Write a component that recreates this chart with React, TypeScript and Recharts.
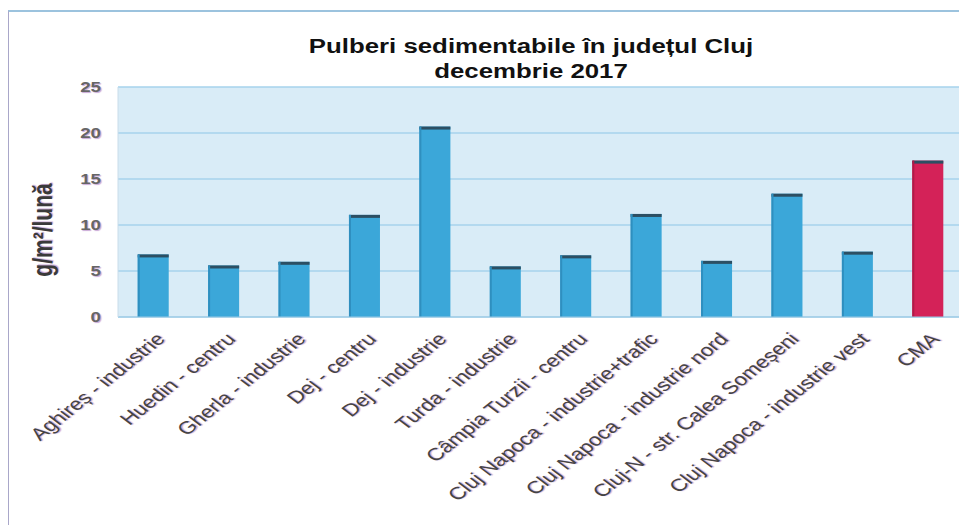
import { BarChart, Bar, XAxis, YAxis, CartesianGrid, Cell } from "recharts";

const stations = [
  "Aghireș - industrie",
  "Huedin - centru",
  "Gherla - industrie",
  "Dej - centru",
  "Dej - industrie",
  "Turda - industrie",
  "Câmpia Turzii - centru",
  "Cluj Napoca - industrie+trafic",
  "Cluj Napoca - industrie nord",
  "Cluj-N - str. Calea Someșeni",
  "Cluj Napoca - industrie vest",
  "CMA",
];
const values = [6.8, 5.6, 6.0, 11.1, 20.7, 5.5, 6.7, 11.2, 6.1, 13.4, 7.1, 17.0];
const yTicks = [0, 5, 10, 15, 20, 25];

const data = stations.map((name, i) => ({ name, value: values[i] }));

const BLUE = "#3ba7d9";
const RED = "#d42258";
const FONT = "Arial, 'Liberation Sans', sans-serif";
// the scanned chart is stretched sideways, so text is widened to match
const STRETCH = 1.29;

// bar with the dark top edge like the excel 3d look
const EdgeBar = (props: any) => {
  const { x, y, width, height, fill } = props;
  if (!height) return null;
  return (
    <g>
      <rect x={x} y={y} width={width} height={height} fill={fill} />
      <rect x={x} y={y} width={width} height={3} fill="#2c4f63" />
      <rect x={x} y={y} width={2} height={height} fill={fill === RED ? "#b01a48" : "#2f8fbf"} />
    </g>
  );
};

const XTick = (props: any) => {
  const { x, y, payload } = props;
  return (
    <g transform={`translate(${x + 13},${y + 15}) scale(${STRETCH},1)`}>
      <text
        transform="rotate(-46)"
        textAnchor="end"
        fontFamily={FONT}
        fontSize={17.5}
        fill="#444"
        style={{ textShadow: "1px 1px 1px #c9a8d6" }}
      >
        {payload.value}
      </text>
    </g>
  );
};

const YTick = (props: any) => {
  const { x, y, payload } = props;
  return (
    <g transform={`translate(${x},${y}) scale(${STRETCH + 0.05},1)`}>
      <text
        textAnchor="end"
        dy={5}
        fontFamily={FONT}
        fontSize={14}
        fontWeight="bold"
        fill="#666"
        style={{ textShadow: "1px 1px 1px #c9a8d6" }}
      >
        {payload.value}
      </text>
    </g>
  );
};

const YLabel = () => (
  <g transform={`translate(34,218) scale(${STRETCH},1)`}>
    <text
      transform="rotate(-90)"
      textAnchor="middle"
      dy={7}
      fontFamily={FONT}
      fontSize={21}
      fontWeight="bold"
      fill="#3a3a3a"
      style={{ textShadow: "1px 1px 1px #c9a8d6" }}
    >
      g/m²/lună
    </text>
  </g>
);

export default function App() {
  return (
    <div
      style={{
        position: "relative",
        width: 959,
        height: 515,
        marginTop: 2,
        borderLeft: "1px solid #a9a7c9",
        borderTop: "2px solid #9cc3de",
        background: "#fff",
        fontFamily: FONT,
      }}
    >
      <div
        style={{
          position: "absolute",
          left: 0,
          width: 1044,
          top: 22,
          textAlign: "center",
          fontWeight: "bold",
          fontSize: 20,
          lineHeight: "25px",
          color: "#111",
          transform: `scaleX(${STRETCH})`,
          transformOrigin: "522px 0",
        }}
      >
        Pulberi sedimentabile în județul Cluj
        <br />
        decembrie 2017
      </div>
      <BarChart
        width={958}
        height={513}
        data={data}
        margin={{ top: 75, right: 4, left: 0, bottom: 0 }}
        barCategoryGap="28%"
      >
        <CartesianGrid
          vertical={false}
          stroke="#a6d3ec"
          strokeWidth={1.5}
          fill="#d9ecf7"
          fillOpacity={1}
        />
        <XAxis
          dataKey="name"
          interval={0}
          height={208}
          tick={<XTick />}
          tickLine={false}
          axisLine={{ stroke: "#9dc9e3" }}
        />
        <YAxis
          width={109}
          domain={[0, 25]}
          ticks={yTicks}
          tickLine={false}
          axisLine={{ stroke: "#c9dcea" }}
          tickMargin={11}
          tick={<YTick />}
          label={<YLabel />}
        />
        <Bar dataKey="value" isAnimationActive={false} shape={<EdgeBar />}>
          {data.map((d, i) => (
            <Cell key={i} fill={d.name === "CMA" ? RED : BLUE} />
          ))}
        </Bar>
      </BarChart>
    </div>
  );
}
